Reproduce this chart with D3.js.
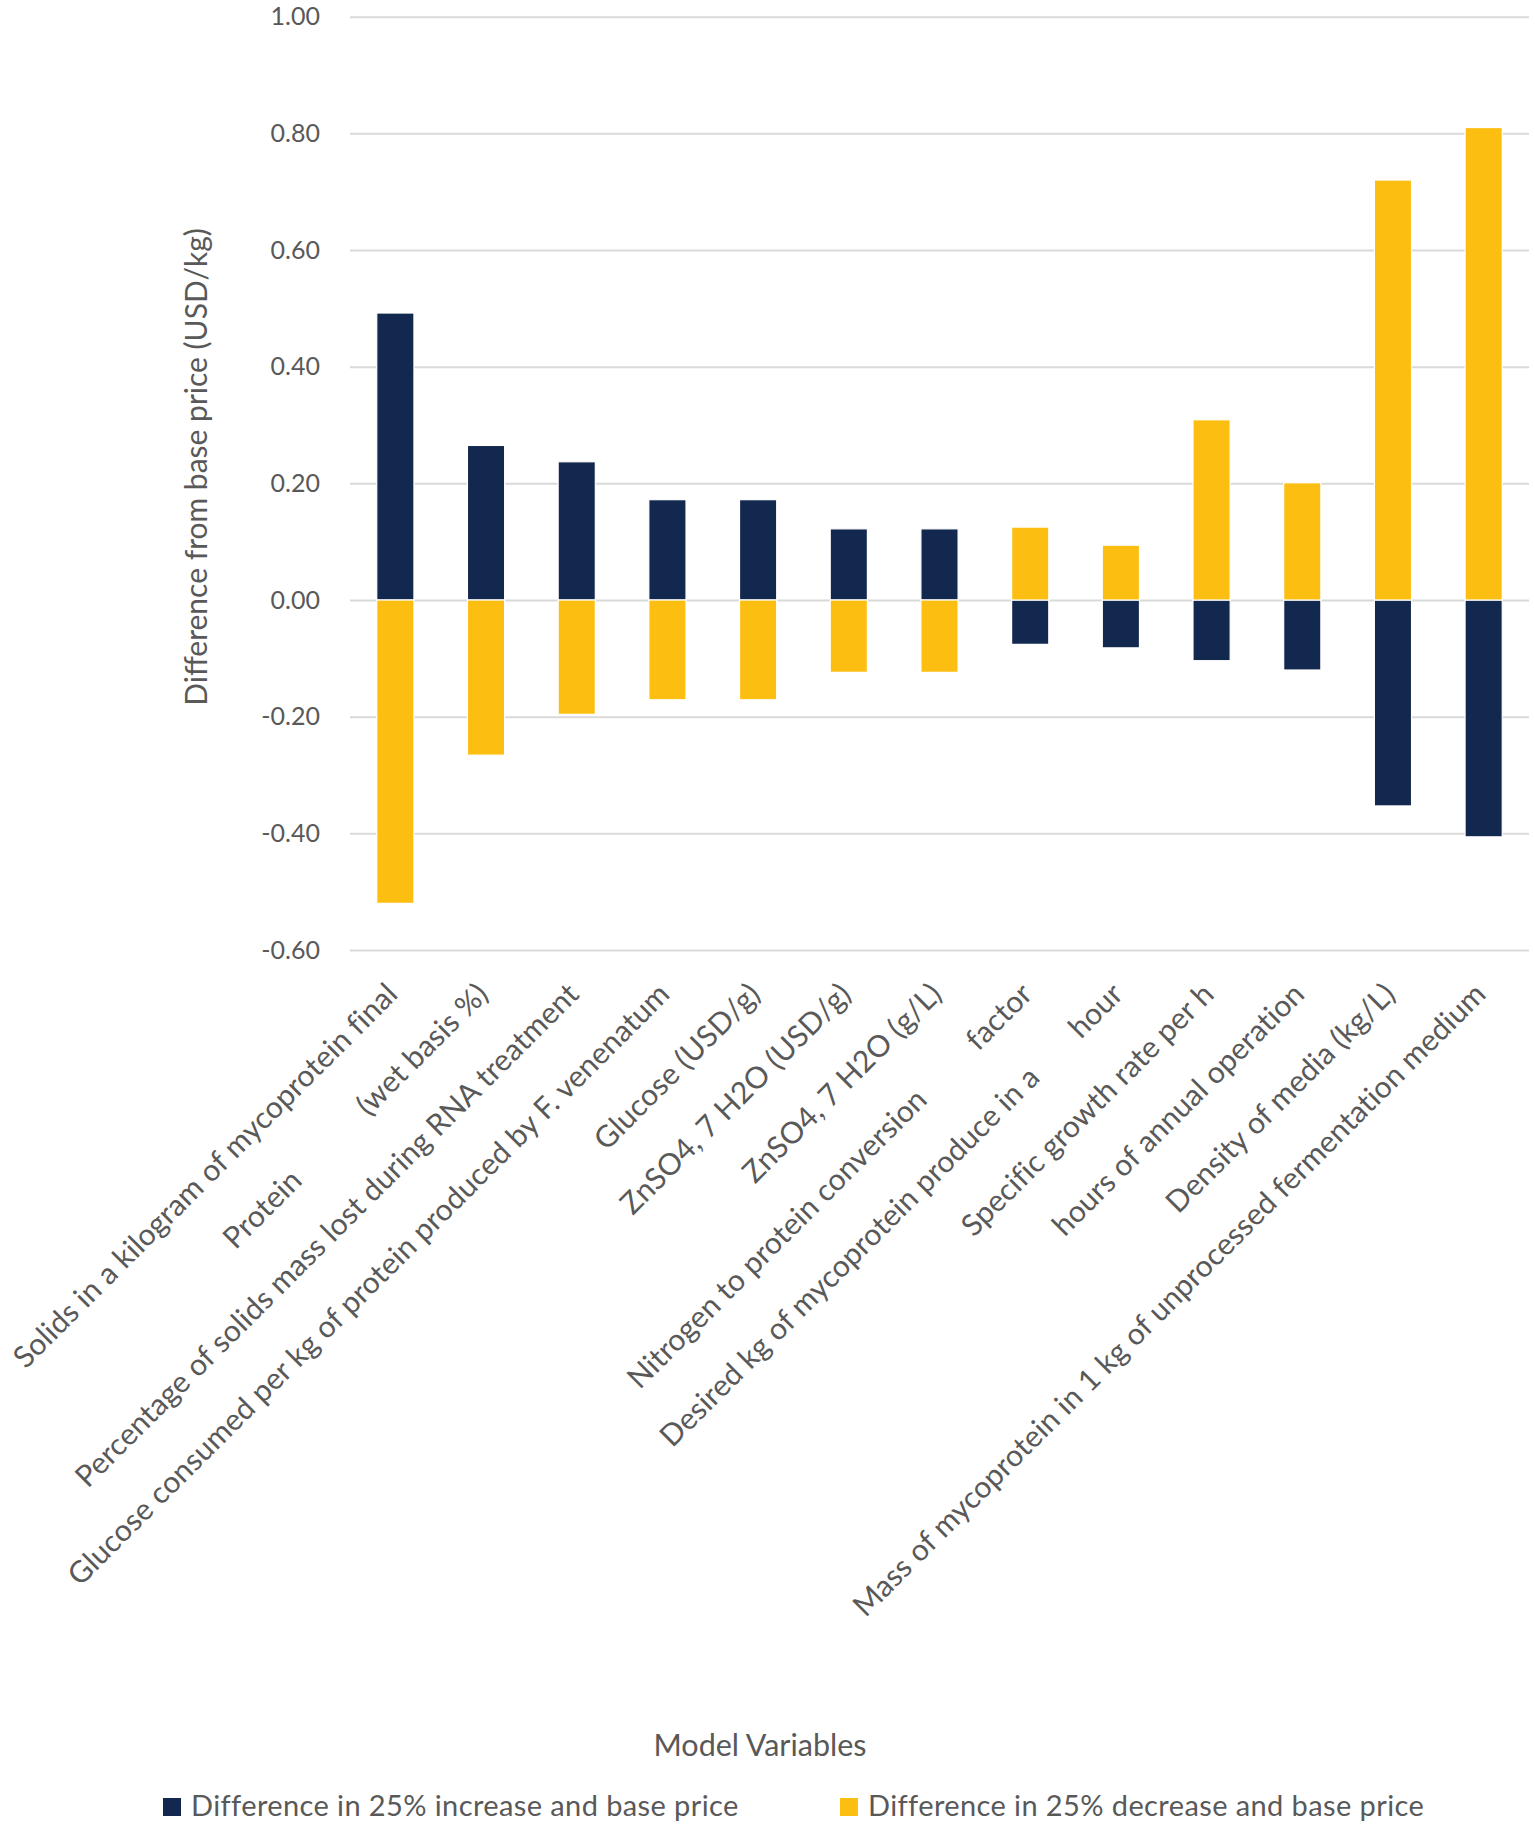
<!DOCTYPE html>
<html>
<head>
<meta charset="utf-8">
<script src="https://cdn.jsdelivr.net/npm/d3@7"></script>
<style>
  body { margin: 0; background: #fff; }
  text { font-family: Lato, "Open Sans", sans-serif; fill: #595959; }
</style>
</head>
<body>
<svg id="chart" width="1535" height="1829"></svg>
<script>
// category labels: a second part is drawn further down the same line
const categories = [
  ["Solids in a kilogram of mycoprotein final"],
  ["Protein", "(wet basis %)"],
  ["Percentage of solids mass lost during RNA treatment"],
  ["Glucose consumed per kg of protein produced by F. venenatum"],
  ["Glucose (USD/g)"],
  ["ZnSO4, 7 H2O (USD/g)"],
  ["ZnSO4, 7 H2O (g/L)"],
  ["Nitrogen to protein conversion", "factor"],
  ["Desired kg of mycoprotein produce in a", "hour"],
  ["Specific growth rate per h"],
  ["hours of annual operation"],
  ["Density of media (kg/L)"],
  ["Mass of mycoprotein in 1 kg of unprocessed fermentation medium"]
];
const increaseValues = [0.492, 0.265, 0.237, 0.172, 0.172, 0.122, 0.122, -0.076, -0.082, -0.104, -0.120, -0.353, -0.406];
const decreaseValues = [-0.520, -0.266, -0.196, -0.171, -0.171, -0.124, -0.124, 0.125, 0.094, 0.309, 0.201, 0.720, 0.810];
const yTicks = [-0.6, -0.4, -0.2, 0, 0.2, 0.4, 0.6, 0.8, 1.0];
const seriesNames = ["Difference in 25% increase and base price", "Difference in 25% decrease and base price"];
const yTitle = "Difference from base price (USD/kg)";
const xTitle = "Model Variables";

const navy = "#13284e";
const gold = "#fdbe12";
const gridColor = "#d9d9d9";

const plotLeft = 350, plotRight = 1529, plotTop = 16.7, plotBottom = 950;
const svg = d3.select("#chart");

const x = d3.scaleBand()
  .domain(d3.range(categories.length))
  .range([plotLeft, plotRight])
  .padding(0);
const barWidth = x.bandwidth() * 0.41;

const y = d3.scaleLinear()
  .domain([-0.6, 1.0])
  .range([plotBottom, plotTop]);

const fmt = d => d3.format(".2f")(d).replace("\u2212", "-");

// gridlines + tick labels
const yAxis = d3.axisLeft(y)
  .tickValues(yTicks)
  .tickSize(-(plotRight - plotLeft))
  .tickPadding(30)
  .tickFormat(fmt);

const yg = svg.append("g")
  .attr("transform", "translate(" + plotLeft + ",0)")
  .call(yAxis);
yg.select(".domain").remove();
yg.selectAll(".tick line")
  .attr("stroke", gridColor)
  .attr("stroke-width", 2);
yg.selectAll(".tick text")
  .attr("fill", "#595959")
  .style("font-size", "25px")
  .style("font-family", "Lato, sans-serif");

// bars, both series on the same slot
function drawSeries(values, color) {
  svg.append("g")
    .selectAll("rect")
    .data(values)
    .join("rect")
    .attr("x", (d, i) => x(i) + x.bandwidth() / 2 - barWidth / 2)
    .attr("y", d => y(Math.max(0, d)))
    .attr("width", barWidth)
    .attr("height", d => Math.abs(y(d) - y(0)))
    .attr("fill", color)
    .attr("stroke", "#ffffff")
    .attr("stroke-width", 1.2);
}
drawSeries(increaseValues, navy);
drawSeries(decreaseValues, gold);

// rotated category labels
const labelGaps = {1: 92, 7: 70, 8: 56};
const labelSize = 30;

const lg = svg.append("g");
categories.forEach((parts, i) => {
  let g = lg.append("g")
    .attr("transform", "translate(" + (x(i) + x.bandwidth() / 2 + 4) + "," + (plotBottom + 46) + ") rotate(-45)");
  let last = g.append("text")
    .attr("x", 0)
    .attr("y", 0)
    .attr("text-anchor", "end")
    .style("font-size", labelSize + "px")
    .style("letter-spacing", "0.15px")
    .text(parts[parts.length - 1]);
  if (parts.length > 1) {
    let w = last.node().getComputedTextLength();
    g.append("text")
      .attr("x", -(w + labelGaps[i]))
      .attr("y", 0)
      .attr("text-anchor", "end")
      .style("font-size", labelSize + "px")
      .style("letter-spacing", "0.15px")
      .text(parts[0]);
  }
});

// axis titles
svg.append("text")
  .attr("transform", "translate(207," + 467 + ") rotate(-90)")
  .attr("text-anchor", "middle")
  .style("font-size", "30px")
  .text(yTitle);

svg.append("text")
  .attr("x", 760)
  .attr("y", 1756)
  .attr("text-anchor", "middle")
  .style("font-size", "30.5px")
  .text(xTitle);

// legend
const legendX = [163, 840];
const legendColors = [navy, gold];
seriesNames.forEach((name, i) => {
  svg.append("rect")
    .attr("x", legendX[i])
    .attr("y", 1798)
    .attr("width", 18)
    .attr("height", 18)
    .attr("fill", legendColors[i]);
  svg.append("text")
    .attr("x", legendX[i] + 28)
    .attr("y", 1816)
    .style("font-size", "29px")
    .style("letter-spacing", "0.4px")
    .text(name);
});
</script>
</body>
</html>
